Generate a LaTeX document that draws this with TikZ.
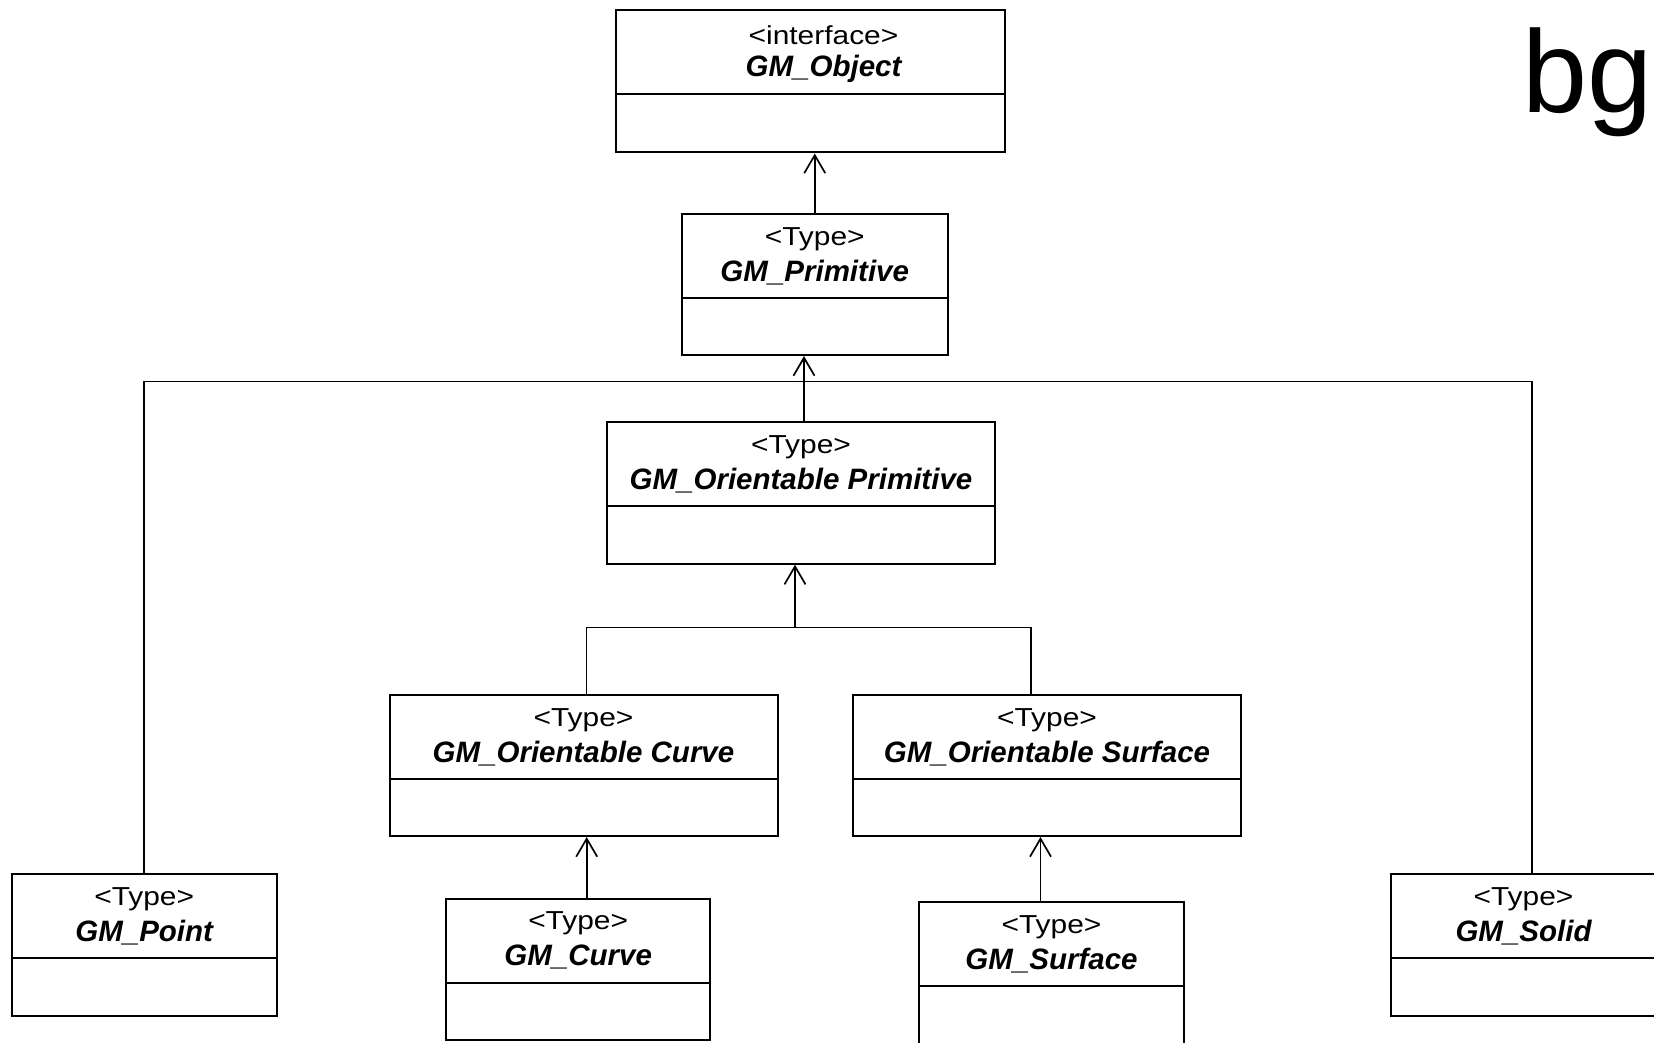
\documentclass[tikz,border=0pt]{standalone}
\usepackage{fontspec}
\setmainfont{Liberation Sans}
\usetikzlibrary{arrows.meta}

% One UML class box: name, left, top, width, height, text shift, stereotype, class name
\newcommand\umlclass[8]{%
  \node[clsbox, minimum width=#4pt, minimum height=#5pt, anchor=north west] (#1) at (#2,#3) {};
  \draw[clsline] ([yshift=-85pt]#1.north west) -- ([yshift=-85pt]#1.north east);
  \node[stereo] (#1-s) at ([xshift=#6pt, yshift=-26pt]#1.north) {\scalebox{1.15}[1]{#7}};
  \node[clsname] (#1-n) at ([xshift=#6pt, yshift=-59.5pt]#1.north) {#8};
}

\begin{document}
\begin{tikzpicture}[x=1pt, y=-1pt,
  clsbox/.style={draw, line width=2pt, inner sep=0pt, fill=white},
  clsline/.style={line width=2pt},
  stereo/.style={inner sep=0pt, font=\fontsize{26}{31}\selectfont},
  clsname/.style={inner sep=0pt, font=\fontsize{29.5}{35}\selectfont\bfseries\itshape},
  link/.style={line width=1.7pt},
  gen/.style={line width=1.7pt, -{Straight Barb[length=18pt, width=21pt]}},
  bigtext/.style={inner sep=0pt, anchor=base west, font=\fontsize{117}{130}\selectfont}]

\useasboundingbox (0,0) rectangle (1654,1043);
\clip (0,0) rectangle (1654,1043);
\fill[white] (0,0) rectangle (1654,1043);

% class boxes
\umlclass{obj}{615}{9.5}{389}{142}{13}{<interface>}{GM\_Object}
\umlclass{prim}{681}{213}{265.5}{141}{0}{<Type>}{GM\_Primitive}
\umlclass{opr}{606}{421}{388}{141.7}{0}{<Type>}{GM\_Orientable Primitive}
\umlclass{ocv}{388.5}{694}{388}{141}{0}{<Type>}{GM\_Orientable Curve}
\umlclass{osf}{852}{694}{388}{141}{0}{<Type>}{GM\_Orientable Surface}
\umlclass{pt}{10.7}{873.3}{265}{141.7}{0}{<Type>}{GM\_Point}
\umlclass{cv}{445}{897.7}{264.3}{141.3}{0}{<Type>}{GM\_Curve}
\umlclass{sf}{918.3}{901}{264.4}{141.5}{0}{<Type>}{GM\_Surface}
\umlclass{sd}{1390}{873.3}{265}{141.7}{0}{<Type>}{GM\_Solid}

\node[bigtext] (bg) at (1522,113) {bg};

% connector attachment points
\coordinate (busy) at (0,381.5);
\coordinate (sdtop) at (1532,873.3);
\coordinate (oprtop) at (804,421);
\coordinate (br) at (795,627.6);
\coordinate (ocvtop) at (586.5,694);
\coordinate (osftop) at (1031,694);
\coordinate (cvtop) at (586.7,897.7);
\coordinate (sftop) at (1040.5,901);

% generalisations
\draw[gen] (prim.north) -- (prim.north |- obj.south);
\draw[gen] (oprtop) -- (oprtop |- prim.south);
\draw[link] (pt.north) -- (pt.north |- busy) -- (sdtop |- busy) -- (sdtop);
\draw[gen] (br) -- (br |- opr.south);
\draw[link] (ocvtop) -- (ocvtop |- br) -- (osftop |- br) -- (osftop);
\draw[gen] (cvtop) -- (cvtop |- ocv.south);
\draw[gen] (sftop) -- (sftop |- osf.south);
\end{tikzpicture}
\end{document}
